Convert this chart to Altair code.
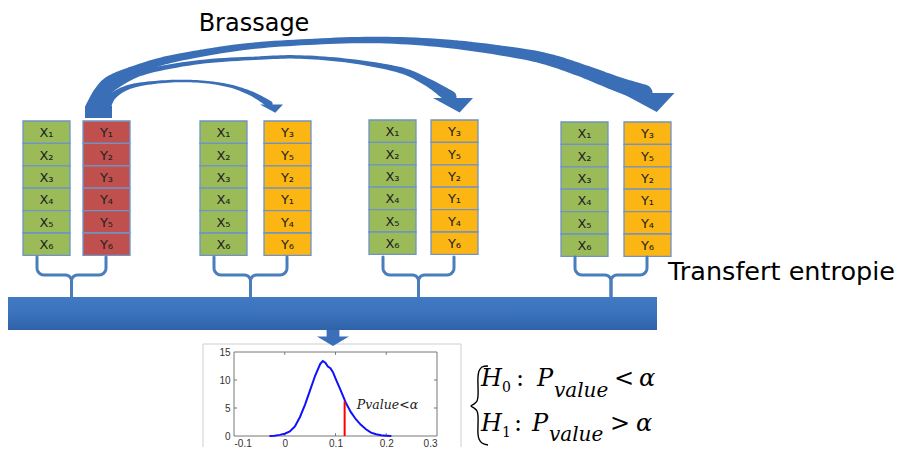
import numpy as np
import pandas as pd
import altair as alt

# ---------------- data ----------------
x_labels = ["X₁", "X₂", "X₃", "X₄", "X₅", "X₆"]
y_original = ["Y₁", "Y₂", "Y₃", "Y₄", "Y₅", "Y₆"]
y_shuffled = ["Y₃", "Y₅", "Y₂", "Y₁", "Y₄", "Y₆"]
group_y_labels = [y_original, y_shuffled, y_shuffled, y_shuffled]
group_is_original = [True, False, False, False]

title_text = "Brassage"
te_text = "Transfert entropie"

# null distribution of the inset
dist_x = [-0.03, -0.02, -0.01, 0.0, 0.01, 0.02, 0.03, 0.04, 0.05, 0.06, 0.07,
          0.075, 0.08, 0.085, 0.09, 0.095, 0.10, 0.11, 0.12, 0.13, 0.14, 0.15,
          0.16, 0.17, 0.18, 0.19, 0.20, 0.21]
dist_y = [0.0, 0.05, 0.2, 0.4, 0.8, 1.7, 3.4, 5.6, 8.2, 10.8, 12.9,
          13.4, 13.1, 12.4, 12.1, 11.4, 10.3, 8.2, 6.0, 4.3, 3.0, 2.0,
          1.2, 0.6, 0.3, 0.12, 0.05, 0.0]
stat_value = 0.118
stat_density = 6.2
inset_label = "Pvalue<α"
inset_x_ticks = [-0.1, 0.0, 0.1, 0.2, 0.3]
inset_y_ticks = [0, 5, 10, 15]

hyp_italic = [["H", "P", "value", "α"], ["H", "P", "value", "α"]]
hyp_upright = [["0", ":", "<"], ["1", ":", ">"]]

# ---------------- layout / styles ----------------
PAGE_W, PAGE_H, M = 911, 455, 8
W, H = PAGE_W - 2 * M, PAGE_H - 2 * M
GREEN, RED, AMBER = "#9bbb59", "#c0504d", "#fcb614"
BLUE_ARROW, BLUE_BRACE = "#3a6fb7", "#4a7ebb"

col_x_left = [23, 200, 369, 561]
col_y_left = [83, 264, 431, 624]
col_top = [121, 121, 120, 122]
COL_W, ROW_H = 47, 22.4

MXS = alt.Scale(domain=[M, PAGE_W - M], range=[0, W], nice=False, zero=False)
MYS = alt.Scale(domain=[M, PAGE_H - M], range=[0, H], nice=False, zero=False)


def mx(f):
    return alt.X(f, type="quantitative", scale=MXS, axis=None)


def my(f):
    return alt.Y(f, type="quantitative", scale=MYS, axis=None)


# ---------------- arrows (Brassage) ----------------
def catmull(points, widths, n=10):
    pts = np.array(points, float)
    w = np.array(widths, float)
    P = np.vstack([pts[0], pts, pts[-1]])
    out, ow = [], []
    for i in range(len(pts) - 1):
        p0, p1, p2, p3 = P[i], P[i + 1], P[i + 2], P[i + 3]
        for k in range(n):
            t = k / n
            pt = 0.5 * ((2 * p1) + (-p0 + p2) * t + (2 * p0 - 5 * p1 + 4 * p2 - p3) * t * t
                        + (-p0 + 3 * p1 - 3 * p2 + p3) * t ** 3)
            out.append(pt)
            ow.append(w[i] + (w[i + 1] - w[i]) * t)
    out.append(pts[-1])
    ow.append(w[-1])
    return out, ow


arrow_paths = {
    "big": ([(92, 107), (100, 92), (112, 80), (144, 67), (176, 58), (242, 47), (308, 42),
             (380, 40), (450, 44), (517, 53), (550, 60), (583, 71), (617, 84), (644, 93)],
            [13, 12, 11, 9, 7.5, 6.5, 6, 6.5, 8.5, 10.5, 12, 13, 15, 17]),
    "mid": ([(100, 107), (106, 94), (118, 84), (145, 72), (200, 62), (260, 58), (300, 57),
             (350, 61), (400, 70), (427, 82), (443, 92), (450, 97)],
            [9, 8, 7, 5, 4, 3.5, 3.5, 4, 6, 8, 11, 13]),
    "small": ([(106, 107), (112, 97), (124, 89), (142, 84), (175, 81), (205, 82), (230, 86),
               (250, 93), (263, 100), (269, 104)],
              [10, 7, 5, 3.5, 2.5, 2.5, 3, 4.5, 6, 7]),
}
trail_rows = []
for name, (pts, ws) in arrow_paths.items():
    sp, sw = catmull(pts, ws)
    for i, (p, w) in enumerate(zip(sp, sw)):
        trail_rows.append({"a": name, "i": i, "x": p[0], "y": p[1], "w": w})
trail_df = pd.DataFrame(trail_rows)

head_df = pd.DataFrame({"x": [648, 453, 271.5], "y": [93, 98, 104.5],
                        "s": [53 ** 2, 40 ** 2, 23 ** 2]})
HEAD_PATH = "M -1 0 L 1 0 L 0.33 0.72 Z"
base_df = pd.DataFrame({"x": [85], "x2": [112], "y": [106], "y2": [118]})

trails = alt.Chart(trail_df).mark_trail(color=BLUE_ARROW).encode(
    x=mx("x"), y=my("y"), size=alt.Size("w:Q", scale=None, legend=None),
    detail="a:N", order="i:Q")
heads = alt.Chart(head_df).mark_point(shape=HEAD_PATH, filled=True, opacity=1,
                                      color=BLUE_ARROW, strokeWidth=0).encode(
    x=mx("x"), y=my("y"), size=alt.Size("s:Q", scale=None, legend=None))
base = alt.Chart(base_df).mark_rect(color=BLUE_ARROW).encode(
    x=mx("x"), x2=alt.X2("x2"), y=my("y"), y2=alt.Y2("y2"))

# ---------------- boxes ----------------
box_rows = []
for g in range(4):
    for r in range(6):
        top = col_top[g] + r * ROW_H
        box_rows.append({"x": col_x_left[g], "x2": col_x_left[g] + COL_W, "y": top,
                         "y2": top + ROW_H, "fill": GREEN, "t": x_labels[r],
                         "cx": col_x_left[g] + COL_W / 2, "cy": top + ROW_H / 2 + 1})
        box_rows.append({"x": col_y_left[g], "x2": col_y_left[g] + COL_W, "y": top,
                         "y2": top + ROW_H, "fill": RED if group_is_original[g] else AMBER,
                         "t": group_y_labels[g][r],
                         "cx": col_y_left[g] + COL_W / 2, "cy": top + ROW_H / 2 + 1})
box_df = pd.DataFrame(box_rows)
boxes = alt.Chart(box_df).mark_rect(stroke="#6f93c6", strokeWidth=1.3).encode(
    x=mx("x"), x2=alt.X2("x2"), y=my("y"), y2=alt.Y2("y2"),
    fill=alt.Fill("fill:N", scale=None))
box_text = alt.Chart(box_df).mark_text(font="DejaVu Sans", fontSize=13, color="#222222",
                                       align="center", baseline="middle").encode(
    x=mx("cx"), y=my("cy"), text="t:N")

# ---------------- braces ----------------
brace_rows = []
for g in range(4):
    xl = col_x_left[g] + 14
    xr = col_y_left[g] + 23
    xc = (xl + xr) / 2
    top, arm_end, r1, r2, stem_bot = 257, 268, 7, 6, 298
    hy = arm_end + r1
    half = [(xl, top), (xl, arm_end)]
    for a in np.linspace(180, 90, 7)[1:]:
        half.append((xl + r1 + r1 * np.cos(np.radians(a)), arm_end + r1 * np.sin(np.radians(a))))
    half.append((xc - r2, hy))
    for a in np.linspace(-90, 0, 7)[1:]:
        half.append((xc - r2 + r2 * np.cos(np.radians(a)), hy + r2 + r2 * np.sin(np.radians(a))))
    half.append((xc, stem_bot))
    for i, (px, py) in enumerate(half):
        brace_rows.append({"b": f"{g}L", "i": i, "x": px, "y": py})
        brace_rows.append({"b": f"{g}R", "i": i, "x": 2 * xc - px, "y": py})
brace_df = pd.DataFrame(brace_rows)
braces = alt.Chart(brace_df).mark_line(color=BLUE_BRACE, strokeWidth=3, strokeCap="round",
                                       strokeJoin="round").encode(
    x=mx("x"), y=my("y"), detail="b:N", order="i:Q")

# ---------------- bar + down arrow ----------------
bar_df = pd.DataFrame({"x": [M], "x2": [657], "y": [297], "y2": [330]})
bar = alt.Chart(bar_df).mark_rect(
    color=alt.LinearGradient(gradient="linear", x1=0, x2=0, y1=0, y2=1,
                             stops=[alt.GradientStop(color="#4179c2", offset=0),
                                    alt.GradientStop(color="#3a72bb", offset=0.5),
                                    alt.GradientStop(color="#2f62a8", offset=1)])).encode(
    x=mx("x"), x2=alt.X2("x2"), y=my("y"), y2=alt.Y2("y2"))

frame_df = pd.DataFrame({"x": [203], "x2": [461], "y": [344], "y2": [470]})
inset_frame = alt.Chart(frame_df).mark_rect(fill="white", stroke="#cfcfcf", strokeWidth=1).encode(
    x=mx("x"), x2=alt.X2("x2"), y=my("y"), y2=alt.Y2("y2"))

DOWN_PATH = "M -0.4 -0.5 L 0.4 -0.5 L 0.4 -0.1 L 1 -0.1 L 0 0.5 L -1 -0.1 L -0.4 -0.1 Z"
down_df = pd.DataFrame({"x": [333], "y": [338]})
down = alt.Chart(down_df).mark_point(shape=DOWN_PATH, filled=True, opacity=1, color="#3a70b9",
                                     strokeWidth=0, size=1024).encode(x=mx("x"), y=my("y"))

# ---------------- titles ----------------
title_df = pd.DataFrame({"x": [254], "y": [31], "t": [title_text]})
title = alt.Chart(title_df).mark_text(font="DejaVu Sans", fontSize=24, color="black",
                                      align="center", baseline="alphabetic").encode(
    x=mx("x"), y=my("y"), text="t:N")
te_df = pd.DataFrame({"x": [668], "y": [280], "t": [te_text]})
te = alt.Chart(te_df).mark_text(font="DejaVu Sans", fontSize=25.5, color="black",
                                align="left", baseline="alphabetic").encode(
    x=mx("x"), y=my("y"), text="t:N")

# ---------------- hypotheses ----------------
ital_pos = [[(481, 386, 24), (537, 386, 24), (554, 397, 20), (639, 386, 24)],
            [(481, 431, 24), (532, 431, 24), (549, 441, 20), (636, 431, 24)]]
up_pos = [[(502, 392, 14), (516, 386, 24), (614, 386, 24)],
          [(502, 437, 14), (514, 431, 24), (610, 431, 24)]]
it_rows, up_rows = [], []
for ln in range(2):
    for t, (px, py, fs) in zip(hyp_italic[ln], ital_pos[ln]):
        it_rows.append({"t": t, "x": px, "y": py, "fs": fs})
    for t, (px, py, fs) in zip(hyp_upright[ln], up_pos[ln]):
        up_rows.append({"t": t, "x": px, "y": py, "fs": fs})
hyp_it = alt.Chart(pd.DataFrame(it_rows)).mark_text(
    font="DejaVu Serif", fontStyle="italic", color="black", align="left",
    baseline="alphabetic").encode(x=mx("x"), y=my("y"), text="t:N",
                                  size=alt.Size("fs:Q", scale=None, legend=None))
hyp_up = alt.Chart(pd.DataFrame(up_rows)).mark_text(
    font="DejaVu Serif", color="black", align="left",
    baseline="alphabetic").encode(x=mx("x"), y=my("y"), text="t:N",
                                  size=alt.Size("fs:Q", scale=None, legend=None))
hb_pts = [(488, 366), (482, 367), (479, 371), (478, 377), (478, 396), (477, 401), (474, 404),
          (471, 406), (474, 408), (477, 411), (478, 416), (478, 434), (479, 439), (482, 443),
          (488, 445)]
hb_df = pd.DataFrame({"i": range(len(hb_pts)), "x": [p[0] for p in hb_pts],
                      "y": [p[1] for p in hb_pts]})
hyp_brace = alt.Chart(hb_df).mark_line(color="black", strokeWidth=1.4,
                                       interpolate="catmull-rom").encode(
    x=mx("x"), y=my("y"), order="i:Q")

main = alt.layer(trails, base, heads, boxes, box_text, braces, bar, inset_frame, down,
                 title, te, hyp_brace, hyp_it, hyp_up)

# ---------------- inset (own scales) ----------------
IXS = alt.Scale(domain=[-0.1, 0.3], range=[234 - M, 437 - M], nice=False, zero=False)
IYS = alt.Scale(domain=[0, 15], range=[436 - M, 352 - M], nice=False, zero=False)
x_axis = alt.Axis(orient="bottom", offset=(436 - M) - H, values=inset_x_ticks, title=None,
                  domain=False, ticks=False, grid=False, labelPadding=2, zindex=2,
                  labelFont="Liberation Sans", labelFontSize=10, labelColor="#333",
                  labelExpr="datum.value < 0 ? '-' + format(-datum.value, '.1f') : "
                            "(datum.value == 0 ? '0' : format(datum.value, '.1f'))")
y_axis = alt.Axis(orient="left", offset=-(234 - M), values=inset_y_ticks, title=None,
                  domain=False, ticks=False, grid=False, labelPadding=4, zindex=2,
                  labelFont="Liberation Sans", labelFontSize=10, labelColor="#333",
                  format="d")


def ix(f):
    return alt.X(f, type="quantitative", scale=IXS, axis=x_axis)


def iy(f):
    return alt.Y(f, type="quantitative", scale=IYS, axis=y_axis)


box_inset = alt.Chart(pd.DataFrame({"a": [-0.1], "b": [0.3], "c": [0], "d": [15]})).mark_rect(
    fillOpacity=0, stroke="#777", strokeWidth=1).encode(
    x=ix("a"), x2=alt.X2("b"), y=iy("c"), y2=alt.Y2("d"))

tick_rows = []
for v in inset_x_ticks[1:-1]:
    tick_rows.append({"x": v, "x2": v, "y": 0, "y2": 0.5})
    tick_rows.append({"x": v, "x2": v, "y": 15, "y2": 14.5})
for v in inset_y_ticks[1:-1]:
    tick_rows.append({"x": -0.1, "x2": -0.094, "y": v, "y2": v})
    tick_rows.append({"x": 0.3, "x2": 0.294, "y": v, "y2": v})
ticks_inset = alt.Chart(pd.DataFrame(tick_rows)).mark_rule(color="#777", strokeWidth=1).encode(
    x=ix("x"), x2=alt.X2("x2"), y=iy("y"), y2=alt.Y2("y2"))

curve = alt.Chart(pd.DataFrame({"v": dist_x, "d": dist_y})).mark_line(
    color="#1010ff", strokeWidth=2).encode(x=ix("v"), y=iy("d"))
stat = alt.Chart(pd.DataFrame({"v": [stat_value], "d0": [0], "d1": [stat_density]})).mark_rule(
    color="#ff0000", strokeWidth=2).encode(x=ix("v"), y=iy("d0"), y2=alt.Y2("d1"))
stat_txt = alt.Chart(pd.DataFrame({"v": [0.142], "d": [5.5], "t": [inset_label]})).mark_text(
    font="DejaVu Serif", fontStyle="italic", fontSize=12.5, color="#222", align="left",
    baseline="middle").encode(x=ix("v"), y=iy("d"), text="t:N")

inset = alt.layer(box_inset, ticks_inset, curve, stat, stat_txt)

chart = alt.layer(main, inset).resolve_scale(x="independent", y="independent").properties(
    width=W, height=H, padding=0, autosize=alt.AutoSizeParams(type="none"),
    background="white").configure_view(strokeWidth=0)

chart.save("out.html", embed_options={"renderer": "svg", "actions": False})
